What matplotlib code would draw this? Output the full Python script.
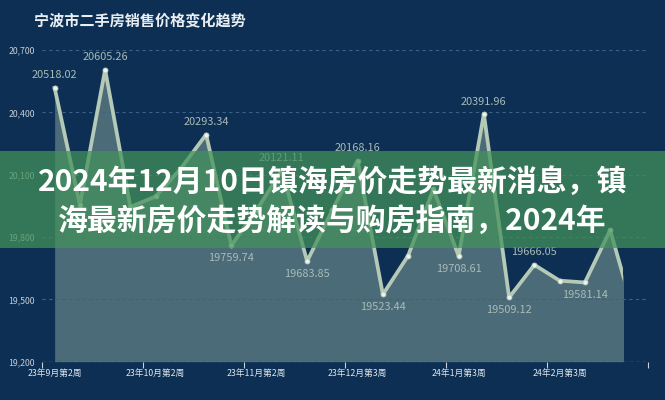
import numpy as np
import matplotlib
matplotlib.use('Agg')
import matplotlib.pyplot as plt
from matplotlib.patches import Rectangle

plt.rcParams['font.family'] = ['Noto Sans CJK SC', 'DejaVu Sans']

# weekly second-hand price data (yuan / m2)
weeks = ['23年9月第2周', '23年9月第3周', '23年9月第4周', '23年10月第1周',
         '23年10月第2周', '23年10月第3周', '23年10月第4周', '23年11月第1周',
         '23年11月第2周', '23年11月第3周', '23年11月第4周', '23年12月第2周',
         '23年12月第3周', '23年12月第4周', '24年1月第1周', '24年1月第2周',
         '24年1月第3周', '24年1月第4周', '24年2月第1周', '24年2月第2周',
         '24年2月第3周', '24年2月第4周', '24年3月第1周', '24年3月第2周']
prices = [20518.02, 19955, 20605.26, 19945, 19995, 20130, 20293.34, 19759.74,
          19930, 20121.11, 19683.85, 19930, 20168.16, 19523.44, 19710, 20030,
          19708.61, 20391.96, 19509.12, 19666.05, 19590, 19581.14, 19833, 19410]
labeled = [0, 2, 6, 7, 9, 10, 12, 13, 16, 17, 18, 19, 21]
y_ticks = [19200, 19500, 19800, 20100, 20400, 20700]

title = '宁波市二手房销售价格变化趋势'
banner_lines = ['2024年12月10日镇海房价走势最新消息，镇',
                '海最新房价走势解读与购房指南，2024年']

bg = '#0c2f53'
fig = plt.figure(figsize=(6.65, 4.0), dpi=100, facecolor=bg)
ax = fig.add_axes([42 / 665, 1 - 361.7 / 400, 606 / 665, 311.7 / 400])
ax.set_facecolor(bg)

x = np.arange(len(prices))
# the screenshot caught the reveal animation just before the last point
clip = Rectangle((-0.5, 19200), 23, 1500, transform=ax.transData)

fill = ax.fill_between(x, 19200, prices, color='#4b6b78', lw=0, zorder=1)
fill.set_clip_path(clip)
line, = ax.plot(x, prices, color='#b5c9b7', lw=2.7, marker='o', ms=3.6,
                mfc='#eef2ee', mec='#b5c9b7', mew=0.6, zorder=4)
line.set_clip_path(clip)

for v in y_ticks[1:]:
    ax.axhline(v, color='#3d6088', lw=0.8, ls=(0, (3, 3)), zorder=2)
ax.axhline(19200, color='#8ea6bf', lw=0.9, ls=(0, (3, 2)), zorder=3)

ax.set_xlim(-0.5, 23.5)
ax.set_ylim(19200, 20700)
ax.set_yticks(y_ticks)
ax.set_yticklabels([f'{v:,}' for v in y_ticks])
ax.tick_params(axis='y', length=0, pad=5, labelsize=6.3, labelcolor='#c5cdd6')

ax.set_xticks(np.arange(-0.5, 24, 4))
ax.set_xticklabels([])
ax.set_xticks(x[::4][:6], minor=True)
ax.set_xticklabels(weeks[::4][:6], minor=True)
ax.tick_params(axis='x', which='major', length=4, width=0.8, color='#c8d0d8')
ax.tick_params(axis='x', which='minor', length=0, pad=5, labelsize=6.3,
               labelcolor='#e2e7ec')
for s in ax.spines.values():
    s.set_visible(False)

for i in labeled:
    left = prices[i - 1] if i > 0 else -np.inf
    right = prices[i + 1] if i < len(prices) - 1 else -np.inf
    up = prices[i] >= max(left, right)
    ax.annotate(f'{prices[i]:.2f}', (i, prices[i]), xytext=(0, 9 if up else -9),
                textcoords='offset points', ha='center', va='center',
                fontsize=7.9, weight='medium', color='#a9bbb6', zorder=5)

fig.text(34 / 665, 1 - 20.5 / 400, title, fontsize=10.9, weight='bold',
         color='#e9eef2', va='center', ha='left')

# green overlay banner with headline
fig.add_artist(Rectangle((0, 1 - 248.3 / 400), 1, 97.6 / 400,
                         transform=fig.transFigure, color='#43925a',
                         alpha=0.72, lw=0, zorder=10))
fig.text(0.5, 1 - 182 / 400, banner_lines[0], ha='center', va='center',
         fontsize=21.5, weight='bold', color='white', zorder=11)
fig.text(0.5, 1 - 221 / 400, banner_lines[1], ha='center', va='center',
         fontsize=21.5, weight='bold', color='white', zorder=11)

fig.savefig('out.png', dpi=100, facecolor=bg)
